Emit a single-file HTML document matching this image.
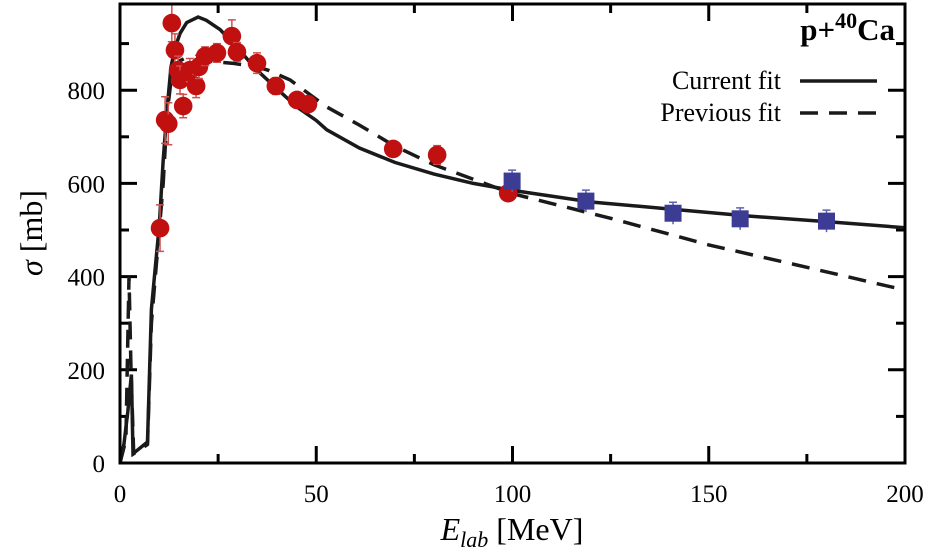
<!DOCTYPE html>
<html><head><meta charset="utf-8"><style>
body{margin:0;background:#fff;}
svg{display:block;font-family:"Liberation Serif",serif;}
</style></head><body>
<svg id="chart" width="925" height="548" viewBox="0 0 925 548">
<g id="plot"></g>
</svg>
<script>
const redE=[10.2,11.5,12.3,13.2,14.0,14.8,15.3,16.1,17.8,19.4,20.1,21.7,24.7,28.5,29.8,34.9,39.7,45.1,47.9,69.6,80.8,98.9];
const redS=[504,736,728,944,886,843,822,766,843,809,850,873,880,916,882,858,809,779,770,674,661,579];
const redErr=[50,50,45,40,35,30,30,25,25,25,25,20,20,35,20,22,18,15,15,15,20,10];
const blueE=[99.9,118.7,140.9,158,180];
const blueS=[605,562,536,524,519];
const curE=[0,1,2,2.9,3.3,7,8,9,10,11,12,13,14,15.3,17,19.9,22,25.5,30,34.9,40,45.1,50,52.7,61,70,80,90,100,120,140,160,180,200];
const curS=[0,40,110,190,20,45,330,420,510,650,760,850,890,922,945,957,950,930,890,843,803,764,735,715,676,645,620,600,585,560,545,530,518,505];
const prevE=[0,1.5,2.3,2.8,3.5,7,8,9,10,11,12,13,14,15,16.6,19.6,25.5,28.5,35,37.7,43.3,52.7,61,70,80,100,125,150,175,200];
const prevS=[0,50,400,200,20,40,300,400,500,600,750,820,845,862,869,865,860,858,850,843,822,764,725,680,640,578,525,468,420,371];
const xTicks=[0,50,100,150,200];
const yTicks=[0,200,400,600,800];

const X0=120,X1=905,Y0=463,YT=4;
const sx=e=>X0+(e/200)*(X1-X0);
const sy=s=>Y0-s*0.466;
const NS="http://www.w3.org/2000/svg";
const g=document.getElementById('plot');
function mk(t,a){const el=document.createElementNS(NS,t);for(const k in a)el.setAttribute(k,a[k]);g.appendChild(el);return el;}

const defs=document.createElementNS(NS,'defs');defs.innerHTML='<clipPath id="cp"><rect x="120" y="4" width="785" height="459"/></clipPath>';g.appendChild(defs);

for(let v=0;v<=200;v+=25){const maj=v%50===0,L=maj?17:9;
 let t=mk('line',{x1:sx(v),x2:sx(v),y1:Y0,y2:Y0-L,stroke:'#000','stroke-width':3});
 t=mk('line',{x1:sx(v),x2:sx(v),y1:YT,y2:YT+L,stroke:'#000','stroke-width':3});}
for(let v=0;v<=900;v+=100){const maj=v%200===0,L=maj?17:9;
 let t=mk('line',{x1:X0,x2:X0+L,y1:sy(v),y2:sy(v),stroke:'#000','stroke-width':3});
 t=mk('line',{x1:X1,x2:X1-L,y1:sy(v),y2:sy(v),stroke:'#000','stroke-width':3});}
xTicks.forEach(v=>{const t=mk('text',{x:sx(v),y:502,'text-anchor':'middle','font-size':25});t.textContent=v;
 });
yTicks.forEach(v=>{const t=mk('text',{x:105,y:sy(v)+9,'text-anchor':'end','font-size':25});t.textContent=v;
 });

function path(E,S){return E.map((e,i)=>(i?'L':'M')+sx(e).toFixed(1)+','+sy(S[i]).toFixed(1)).join('');}
let p=mk('path',{d:path(prevE,prevS),fill:'none',stroke:'#1a1a1a','stroke-width':3.5,'stroke-dasharray':'18,11','clip-path':'url(#cp)'});

p=mk('path',{d:path(curE,curS),fill:'none',stroke:'#1a1a1a','stroke-width':3.5,'clip-path':'url(#cp)'});


redE.forEach((e,i)=>{const x=sx(e),y=sy(redS[i]),d=redErr[i]*0.466;
 const eb=mk('path',{d:`M${x},${y-d}V${y+d}M${x-4},${y-d}H${x+4}M${x-4},${y+d}H${x+4}`,stroke:'#d05050','stroke-width':1.5,fill:'none'});
 
 const c=mk('circle',{cx:x,cy:y,r:9.3,fill:'#c01010'});
 });
blueE.forEach((e,i)=>{const x=sx(e),y=sy(blueS[i]);
 const eb=mk('path',{d:`M${x},${y-11}V${y+11}M${x-4},${y-11}H${x+4}`,stroke:'#6060b0','stroke-width':1.5,fill:'none'});
 
 const r=mk('rect',{x:x-8.5,y:y-8.5,width:17,height:17,fill:'#3c3c94'});
 });

let f=mk('rect',{x:X0,y:YT,width:X1-X0,height:Y0-YT,fill:'none',stroke:'#000','stroke-width':3});


let t=mk('text',{x:781,y:89,'text-anchor':'end','font-size':26});t.textContent='Current fit';

let l=mk('line',{x1:800,x2:877,y1:81,y2:81,stroke:'#1a1a1a','stroke-width':3.5});

t=mk('text',{x:781,y:121,'text-anchor':'end','font-size':26});t.textContent='Previous fit';

l=mk('line',{x1:800,x2:877,y1:113,y2:113,stroke:'#1a1a1a','stroke-width':3.5,'stroke-dasharray':'18,11'});


t=mk('text',{x:895,y:40,'text-anchor':'end','font-size':31,'font-weight':'bold'});
t.innerHTML='p+<tspan dy="-12" font-size="22">40</tspan><tspan dy="12">Ca</tspan>';


t=mk('text',{x:512,y:540,'text-anchor':'middle','font-size':32});
t.innerHTML='<tspan font-style="italic">E</tspan><tspan font-style="italic" font-size="22" dy="7">lab</tspan><tspan dy="-7"> [MeV]</tspan>';

t=mk('text',{x:0,y:0,'text-anchor':'middle','font-size':32,transform:'translate(42,233) rotate(-90)'});
t.innerHTML='<tspan font-style="italic">σ</tspan> [mb]';

</script>
</body></html>
